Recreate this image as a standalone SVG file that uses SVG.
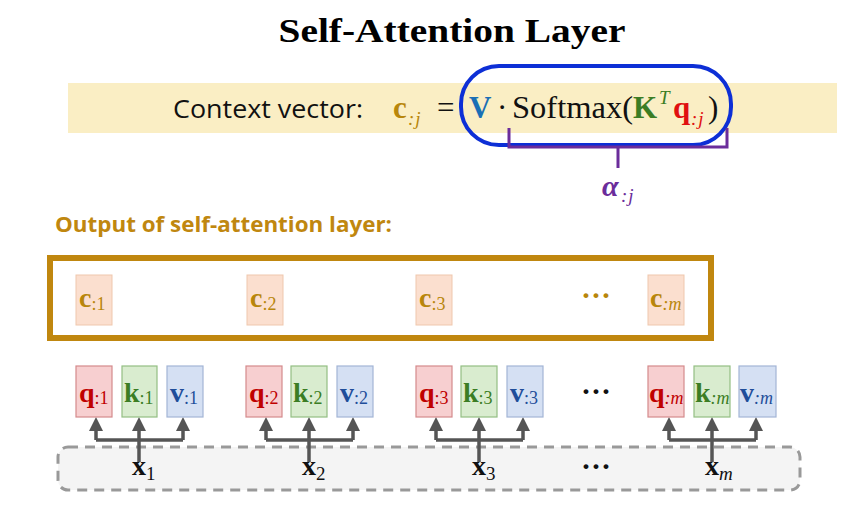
<svg xmlns="http://www.w3.org/2000/svg" width="857" height="507" viewBox="0 0 857 507">
<style>
.serif{font-family:"Liberation Serif","DejaVu Serif",serif}
.sans{font-family:"Open Sans","Liberation Sans",sans-serif}
.b{font-weight:bold}
.i{font-style:italic}
.cbox{fill:#fbdfcf;stroke:#efc7ad;stroke-width:1}
.qbox{fill:#f7cfd0;stroke:#d48a8c;stroke-width:1.2}
.kbox{fill:#d9eccf;stroke:#93bf83;stroke-width:1.2}
.vbox{fill:#d5e0f3;stroke:#a3b5d6;stroke-width:1.2}
.qt{fill:#c00000}
.kt{fill:#3b7d24}
.vt{fill:#1f4e9a}
.ct{fill:#b8860b}
.lbl{font-size:28px}
.sub{font-size:18px;font-weight:normal}
.conn{fill:none;stroke:#555;stroke-width:3.5}
.dots{font-size:30px}
.xl{font-size:28px;fill:#111}
.xs{font-size:19px}
</style>
<defs>
<marker id="ah" markerWidth="4" markerHeight="4" refX="2" refY="2" orient="auto" markerUnits="strokeWidth">
<path d="M0,0 L4,2 L0,4 z" fill="#555"/>
</marker>
</defs>
<rect width="857" height="507" fill="#ffffff"/>
<text class="serif b" x="452" y="42" font-size="34" text-anchor="middle" textLength="347" lengthAdjust="spacingAndGlyphs" fill="#000">Self-Attention Layer</text>

<g id="formula">
<rect x="68" y="83" width="769" height="50" fill="#faeec4"/>
<text class="sans" x="173" y="118" font-size="25" textLength="190" lengthAdjust="spacingAndGlyphs" fill="#111">Context vector:</text>
<text class="serif b ct" x="393" y="118" font-size="31">c</text>
<text class="serif i ct" x="408" y="125" font-size="19">:<tspan dx="1">j</tspan></text>
<text class="serif" x="437" y="118" font-size="31" fill="#111">=</text>
<text class="serif b" x="469" y="118" font-size="31" fill="#1a6fb5">V</text>
<text class="serif" x="497" y="118" font-size="31" fill="#111">·</text>
<text class="serif" x="512" y="118" font-size="31" fill="#111" textLength="121" lengthAdjust="spacingAndGlyphs">Softmax(</text>
<text class="serif b" x="633" y="118" font-size="31" fill="#3b7d24">K</text>
<text class="serif i" x="659" y="104" font-size="19" fill="#3b7d24">T</text>
<text class="serif b" x="673" y="118" font-size="31" fill="#e01010">q</text>
<text class="serif i" x="691" y="125" font-size="19" fill="#e01010">:<tspan dx="1">j</tspan></text>
<text class="serif" x="708" y="118" font-size="31" fill="#111">)</text>
</g>

<g id="highlight">
<rect x="461" y="66" width="270" height="79" rx="38" ry="38" fill="none" stroke="#0d2fd6" stroke-width="4"/>
</g>

<g id="alpha">
<path d="M509,128 V147 H727 V128 M618,147 V168" fill="none" stroke="#6b2d9b" stroke-width="3"/>
<text class="serif b i" x="602" y="196" font-size="30" fill="#6b2d9b">α</text>
<text class="serif i" x="621" y="202" font-size="19" fill="#6b2d9b">:<tspan dx="1">j</tspan></text>
</g>

<text class="sans b" x="55" y="232" font-size="21" textLength="337" lengthAdjust="spacingAndGlyphs" fill="#c0870f">Output of self-attention layer:</text>

<g id="output-layer">
<rect x="50" y="258" width="661" height="80" fill="none" stroke="#c0870f" stroke-width="6"/>
</g>

<g id="c1"><rect class="cbox" x="76" y="275" width="36" height="50"/><text class="serif ct lbl" x="79" y="307"><tspan class="b">c</tspan><tspan class="sub" dy="3">:1</tspan></text></g>
<g id="c2"><rect class="cbox" x="247" y="275" width="36" height="50"/><text class="serif ct lbl" x="250" y="307"><tspan class="b">c</tspan><tspan class="sub" dy="3">:2</tspan></text></g>
<g id="c3"><rect class="cbox" x="416" y="275" width="36" height="50"/><text class="serif ct lbl" x="419" y="307"><tspan class="b">c</tspan><tspan class="sub" dy="3">:3</tspan></text></g>
<text class="serif b ct dots" x="596" y="305" text-anchor="middle">···</text>
<g id="cm"><rect class="cbox" x="648" y="275" width="36" height="50"/><text class="serif ct lbl" x="650" y="307"><tspan class="b">c</tspan><tspan class="sub i" dy="3" font-size="16">:m</tspan></text></g>

<g id="input-layer">
<rect x="58" y="447" width="742" height="43" rx="10" ry="10" fill="#f4f4f4" stroke="#999" stroke-width="3" stroke-dasharray="10,7"/>
</g>

<g id="connectors">
<g class="conn">
<path d="M139,462 V440 M96,440 H183"/>
<path d="M96,440 V424" marker-end="url(#ah)"/><path d="M139,440 V424" marker-end="url(#ah)"/><path d="M183,440 V424" marker-end="url(#ah)"/>
<path d="M309,462 V440 M266,440 H353"/>
<path d="M266,440 V424" marker-end="url(#ah)"/><path d="M309,440 V424" marker-end="url(#ah)"/><path d="M353,440 V424" marker-end="url(#ah)"/>
<path d="M479,462 V440 M436,440 H523"/>
<path d="M436,440 V424" marker-end="url(#ah)"/><path d="M479,440 V424" marker-end="url(#ah)"/><path d="M523,440 V424" marker-end="url(#ah)"/>
<path d="M712,462 V440 M669,440 H756"/>
<path d="M669,440 V424" marker-end="url(#ah)"/><path d="M712,440 V424" marker-end="url(#ah)"/><path d="M756,440 V424" marker-end="url(#ah)"/>
</g>
</g>

<g id="q1"><rect class="qbox" x="76" y="366" width="36" height="51"/><text class="serif qt lbl" x="79" y="402"><tspan class="b">q</tspan><tspan class="sub" dy="2">:1</tspan></text></g>
<g id="k1"><rect class="kbox" x="122" y="366" width="35" height="51"/><text class="serif kt lbl" x="124" y="402"><tspan class="b">k</tspan><tspan class="sub" dy="2">:1</tspan></text></g>
<g id="v1"><rect class="vbox" x="167" y="366" width="36" height="51"/><text class="serif vt lbl" x="170" y="402"><tspan class="b">v</tspan><tspan class="sub" dy="2">:1</tspan></text></g>

<g id="q2"><rect class="qbox" x="246" y="366" width="36" height="51"/><text class="serif qt lbl" x="249" y="402"><tspan class="b">q</tspan><tspan class="sub" dy="2">:2</tspan></text></g>
<g id="k2"><rect class="kbox" x="291" y="366" width="36" height="51"/><text class="serif kt lbl" x="293" y="402"><tspan class="b">k</tspan><tspan class="sub" dy="2">:2</tspan></text></g>
<g id="v2"><rect class="vbox" x="337" y="366" width="36" height="51"/><text class="serif vt lbl" x="340" y="402"><tspan class="b">v</tspan><tspan class="sub" dy="2">:2</tspan></text></g>

<g id="q3"><rect class="qbox" x="416" y="366" width="36" height="51"/><text class="serif qt lbl" x="419" y="402"><tspan class="b">q</tspan><tspan class="sub" dy="2">:3</tspan></text></g>
<g id="k3"><rect class="kbox" x="461" y="366" width="36" height="51"/><text class="serif kt lbl" x="463" y="402"><tspan class="b">k</tspan><tspan class="sub" dy="2">:3</tspan></text></g>
<g id="v3"><rect class="vbox" x="507" y="366" width="36" height="51"/><text class="serif vt lbl" x="510" y="402"><tspan class="b">v</tspan><tspan class="sub" dy="2">:3</tspan></text></g>

<text class="serif b dots" x="596" y="401" text-anchor="middle" fill="#111">···</text>

<g id="qm"><rect class="qbox" x="648" y="366" width="36" height="51"/><text class="serif qt lbl" x="649" y="402"><tspan class="b">q</tspan><tspan class="sub i" dy="2" font-size="16">:m</tspan></text></g>
<g id="km"><rect class="kbox" x="694" y="366" width="36" height="51"/><text class="serif kt lbl" x="695" y="402"><tspan class="b">k</tspan><tspan class="sub i" dy="2" font-size="16">:m</tspan></text></g>
<g id="vm"><rect class="vbox" x="739" y="366" width="37" height="51"/><text class="serif vt lbl" x="740" y="402"><tspan class="b">v</tspan><tspan class="sub i" dy="2" font-size="16">:m</tspan></text></g>

<g id="x1"><text class="serif xl" x="132" y="475"><tspan font-weight="bold">x</tspan><tspan class="xs" dy="5">1</tspan></text></g>
<g id="x2"><text class="serif xl" x="302" y="475"><tspan font-weight="bold">x</tspan><tspan class="xs" dy="5">2</tspan></text></g>
<g id="x3"><text class="serif xl" x="472" y="475"><tspan font-weight="bold">x</tspan><tspan class="xs" dy="5">3</tspan></text></g>
<text class="serif b dots" x="596" y="476" text-anchor="middle" fill="#111">···</text>
<g id="xm"><text class="serif xl" x="705" y="475"><tspan font-weight="bold">x</tspan><tspan class="xs" dy="5" font-style="italic">m</tspan></text></g>
</svg>
